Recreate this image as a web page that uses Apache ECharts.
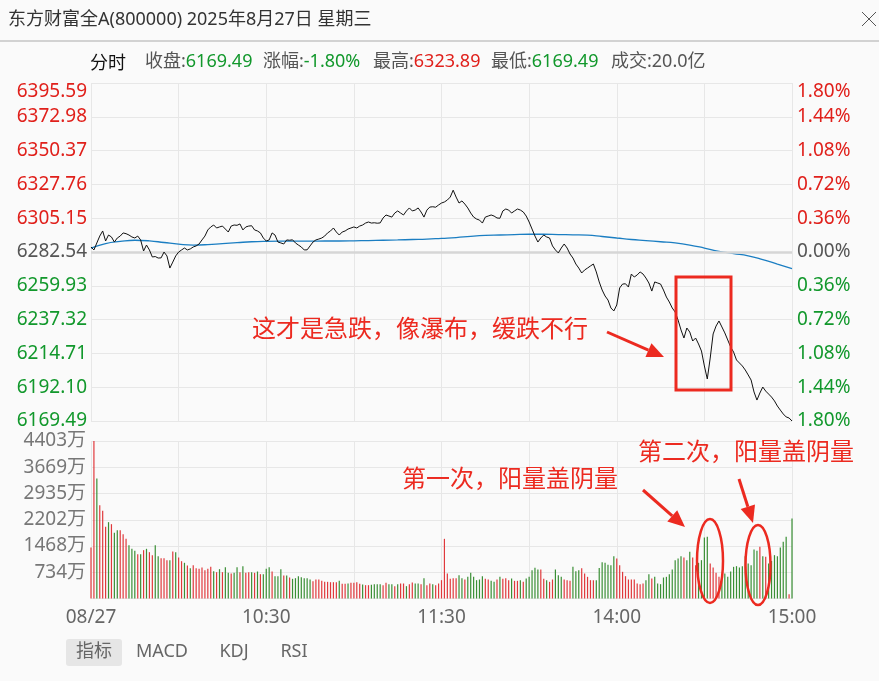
<!DOCTYPE html>
<html><head><meta charset="utf-8">
<script src="https://cdn.jsdelivr.net/npm/echarts@6/dist/echarts.min.js"></script>
<style>html,body{margin:0;padding:0;background:#fafafa;}#c{width:879px;height:681px;}</style>
</head><body><div id="c"></div>
<script>
// ---------- data ----------
const prevClose = 6282.54;
const priceMin = 6169.49;
const priceMax = 6395.59;
const volMax = 4403;
const priceTicks = ['6169.49','6192.10','6214.71','6237.32','6259.93','6282.54','6305.15','6327.76','6350.37','6372.98','6395.59'];
const pctTicks = ['1.80%','1.44%','1.08%','0.72%','0.36%','0.00%','0.36%','0.72%','1.08%','1.44%','1.80%'];
const volTicks = ['','734万','1468万','2202万','2935万','3669万','4403万'];
const timeTicks = ['08/27','','10:30','','11:30','','14:00','','15:00'];
const infoItems = [['收盘:','6169.49','g'],['涨幅:','-1.80%','g'],['最高:','6323.89','r'],['最低:','6169.49','g'],['成交:','20.0亿','k']];
const tabs = ['指标','MACD','KDJ','RSI'];

const price = [
 6285.9,6283.9,6288.6,6293.2,6296.6,6289.9,6293.9,6292.6,6289.2,6291.9,
 6293.2,6295.3,6294.8,6293.9,6292.6,6291.9,6293.2,6290.6,6283.2,6287.2,
 6283.9,6279.2,6279.5,6278.5,6278.6,6282.5,6279.9,6271.8,6275.8,6279.9,
 6282.5,6283.9,6285.2,6283.9,6284.6,6285.9,6286.6,6287.9,6290.6,6293.2,
 6297.3,6299.3,6300.6,6298.6,6299.3,6299.9,6297.9,6295.9,6299.9,6300.6,
 6300.4,6301.3,6297.3,6299.3,6299.9,6300.1,6297.3,6296.6,6295.3,6291.9,
 6289.9,6290.6,6295.3,6293.9,6289.2,6288.6,6287.9,6290.6,6290.4,6290.7,
 6288.6,6287.2,6285.9,6283.9,6284.0,6286.6,6289.2,6290.6,6291.2,6291.9,
 6293.2,6295.3,6296.6,6298.6,6295.9,6293.9,6295.9,6296.6,6297.9,6298.6,
 6299.3,6298.6,6299.9,6300.6,6301.9,6302.6,6301.9,6302.1,6301.8,6302.0,
 6305.3,6307.3,6306.6,6305.9,6308.6,6310.0,6308.6,6307.3,6310.0,6312.0,
 6310.0,6310.6,6312.0,6309.3,6305.9,6310.6,6312.6,6312.8,6312.5,6314.0,
 6315.3,6316.0,6317.3,6319.3,6323.89,6319.3,6315.3,6316.7,6314.6,6312.0,
 6308.6,6305.9,6304.6,6303.9,6301.9,6305.9,6306.6,6307.3,6306.6,6305.3,
 6305.1,6310.0,6311.3,6310.6,6308.6,6310.0,6311.3,6310.6,6309.3,6306.6,
 6302.6,6297.9,6293.2,6289.2,6291.9,6293.9,6292.6,6291.9,6286.6,6283.9,
 6281.9,6285.2,6287.9,6285.2,6281.2,6278.5,6274.5,6271.8,6268.5,6270.5,
 6271.8,6273.2,6274.5,6269.2,6262.5,6257.1,6253.1,6250.4,6245.1,6243.1,
 6247.1,6258.5,6261.1,6261.3,6259.1,6267.8,6265.8,6267.2,6269.2,6267.8,
 6265.1,6261.8,6256.4,6262.5,6261.8,6261.1,6257.1,6252.4,6249.1,6245.1,
 6242.4,6237.0,6230.4,6225.0,6231.7,6229.0,6223.0,6225.0,6221.0,6216.3,
 6206.3,6197.6,6211.6,6227.7,6233.0,6236.4,6232.4,6228.4,6223.7,6219.0,
 6215.6,6210.3,6208.3,6206.3,6203.6,6200.3,6196.9,6188.9,6183.5,6188.2,
 6192.2,6189.5,6187.5,6185.5,6182.9,6179.5,6176.8,6174.2,6172.2,6171.5,
 6169.49
];

const avgIdx = [0,5,10,15,20,25,30,35,40,45,50,55,60,65,70,75,80,85,90,95,100,105,110,115,120,125,130,135,140,145,150,155,160,165,170,175,180,185,190,195,200,205,210,215,220,225,230,235,240];
const avgVal = [6285.2,6288.2,6289.6,6290.4,6290.0,6288.9,6287.8,6287.2,6287.5,6288.2,6288.8,6289.4,6289.7,6289.8,6289.8,6289.8,6289.9,6289.9,6290.0,6290.2,6290.4,6290.6,6290.9,6291.2,6291.7,6292.2,6293.0,6293.6,6293.9,6294.2,6294.4,6294.4,6294.2,6294.0,6293.8,6292.9,6291.9,6290.9,6290.2,6289.4,6288.6,6287.2,6285.2,6283.0,6281.5,6280.0,6277.5,6274.5,6271.5];

const volume = [
 1426,4403,3355,2610,2452,2004,2134,2078,1837,1910,
 1910,1798,1669,1491,1389,1333,1239,1239,1351,1389,
 1295,1211,1491,1183,1127,1127,1071,1071,1314,1295,
 1146,1043,998,923,848,932,848,830,867,792,
 830,886,764,736,820,736,876,718,699,718,
 876,736,904,718,736,736,718,755,680,680,
 830,876,755,624,624,820,643,643,587,550,
 568,624,596,568,568,531,484,531,531,494,
 466,466,456,456,456,494,410,410,419,438,
 438,456,410,391,373,373,382,401,401,400,
 373,438,401,401,345,401,419,419,345,401,
 447,419,419,401,568,373,419,401,373,419,
 513,1668,699,550,568,568,652,568,531,606,
 718,606,513,531,624,550,531,494,466,531,
 606,550,568,513,559,494,494,513,466,559,
 606,792,857,811,811,550,513,466,531,811,
 652,606,531,513,494,885,764,792,848,699,
 606,513,513,513,850,1016,997,941,932,1184,
 1118,932,746,624,531,531,531,419,401,419,
 513,680,559,606,419,401,587,606,680,811,
 1072,1118,1184,1146,1072,1305,1146,932,997,1072,
 1706,1724,979,867,718,606,680,699,606,755,
 885,904,867,900,1184,979,932,1370,1333,1445,
 1184,1165,979,1050,1212,1184,1426,1584,1724,121,
 2237
];
const volUp = [
 1,1,0,1,1,1,0,1,0,0, 1,1,1,0,0,0,1,0,1,0, 1,1,0,0,1,1,1,0,1,0, 1,1,0,1,0,1,1,1,1,1,
 1,1,0,1,0,1,0,0,1,0, 0,1,0,1,1,0,1,0,1,0, 0,0,1,0,0,0,1,0,1,0, 0,0,0,0,0,0,1,1,1,1,
 1,1,1,1,1,0,1,1,0,1, 1,1,1,0,1,1,0,0,0,0, 1,1,0,0,1,0,1,1,0,1, 1,0,0,1,0,1,1,0,1,1,
 1,1,1,1,1,1,0,0,1,0, 0,0,0,0,0,1,1,0,0,1, 0,1,1,1,0,1,1,0,1,0, 0,0,0,0,1,1,0,1,1,0,
 0,0,1,1,1,0,0,0,1,1, 1,1,1,0,0,0,0,0,0,0, 1,1,1,1,1,1,1,1,1,1, 0,0,1,0,0,0,0,0,0,0,
 0,0,0,1,0,0,1,1,0,0, 0,0,1,1,1,1,0,0,0,0, 0,0,0,0,0,0,0,0,0,1, 0,1,0,0,0,0,0,0,0,1,
 0
];

// ---------- style ----------
const RED = '#e0201b', GREEN = '#12982c', GRAY = '#555555';
const BAR_RED = '#e0393c', BAR_GREEN = '#3a8f35';
const ANN = '#ec2a20';
const GRID = '#e7e7e7';
const F = '"Noto Sans","Noto Sans CJK SC",sans-serif';
const FC = '"Noto Sans CJK SC","Noto Sans",sans-serif';
const AX = 19;

const chart = echarts.init(document.getElementById('c'), null, {renderer:'canvas'});

function cls(i){ return i>5 ? 'r' : (i<5 ? 'g' : 'n'); }
const labelRich = {
  r:{color:RED, fontSize:AX, fontFamily:F},
  g:{color:GREEN, fontSize:AX, fontFamily:F},
  n:{color:GRAY, fontSize:AX, fontFamily:F},
  rt:{color:RED, fontSize:AX, fontFamily:F, padding:[17,0,0,0]}
};

function arrow(x1,y1,x2,y2){
  const a = Math.atan2(y2-y1,x2-x1), L=17, W=7.5;
  const bx = x2 - L*Math.cos(a), by = y2 - L*Math.sin(a);
  return [
    {type:'line', shape:{x1:x1,y1:y1,x2:bx,y2:by}, style:{stroke:ANN, lineWidth:3}, z:100},
    {type:'polygon', shape:{points:[[x2,y2],[bx+W*Math.sin(a),by-W*Math.cos(a)],[bx-W*Math.sin(a),by+W*Math.cos(a)]]}, style:{fill:ANN}, z:100}
  ];
}

const graphics = [
  {type:'text', style:{x:8, y:20, text:'东方财富全A(800000) 2025年8月27日 星期三', fontSize:18, fontFamily:F, fill:'#333', verticalAlign:'middle'}},
  {type:'line', shape:{x1:862,y1:12,x2:876,y2:26}, style:{stroke:'#555', lineWidth:1}},
  {type:'line', shape:{x1:876,y1:12,x2:862,y2:26}, style:{stroke:'#555', lineWidth:1}},
  {type:'line', shape:{x1:0,y1:41,x2:879,y2:41}, style:{stroke:'#c4c4c4', lineWidth:1.5}},
  {type:'text', style:{x:90, y:62, text:'分时', fontSize:18, fontFamily:FC, fill:'#111', verticalAlign:'middle'}},
  {type:'rect', shape:{x:66,y:639,width:56,height:27,r:3}, style:{fill:'#e6e6e6'}},
  ...arrow(607,332,664,357),
  ...arrow(643,490,685,527),
  ...arrow(739,479,753,523),
  {type:'rect', shape:{x:676,y:277,width:55,height:113}, style:{stroke:ANN, fill:'none', lineWidth:3}, z:100},
  {type:'ellipse', shape:{cx:710,cy:561,rx:13,ry:42}, style:{stroke:ANN, fill:'none', lineWidth:2.5}, z:100},
  {type:'ellipse', shape:{cx:758,cy:565,rx:12.5,ry:40}, style:{stroke:ANN, fill:'none', lineWidth:2.5}, z:100},
  {type:'text', style:{x:252, y:328, text:'这才是急跌，像瀑布，缓跌不行', fontSize:24, fontFamily:FC, fill:ANN, verticalAlign:'middle'}, z:100},
  {type:'text', style:{x:402, y:478, text:'第一次，阳量盖阴量', fontSize:24, fontFamily:FC, fill:ANN, verticalAlign:'middle'}, z:100},
  {type:'text', style:{x:638, y:451, text:'第二次，阳量盖阴量', fontSize:24, fontFamily:FC, fill:ANN, verticalAlign:'middle'}, z:100}
];
const infoX = [145,263,373,491,611];
infoItems.forEach((it,k)=>{
  graphics.push({type:'text', style:{x:infoX[k], y:62, text:'{k|'+it[0]+'}{'+it[2]+'|'+it[1]+'}', fontSize:18, fontFamily:F, verticalAlign:'middle',
    rich:{k:{fill:'#555', fontSize:18, fontFamily:F}, g:{fill:GREEN, fontSize:18, fontFamily:F}, r:{fill:RED, fontSize:18, fontFamily:F}}}});
});
const tabX = [94,162,234,294];
tabs.forEach((t,k)=>{
  graphics.push({type:'text', style:{x:tabX[k], y:652, text:t, fontSize:18, fontFamily:F, fill:'#666', align:'center', verticalAlign:'middle'}});
});

const option = {
  animation:false,
  backgroundColor:'#fafafa',
  grid:[
    {left:91, top:83, width:701, height:338},
    {left:91, top:441, width:701, height:157.5}
  ],
  xAxis:[
    {gridIndex:0, type:'value', min:0, max:240, interval:30,
     axisLine:{show:false}, axisTick:{show:false}, axisLabel:{show:false},
     splitLine:{show:true, lineStyle:{color:GRID, width:1}}},
    {gridIndex:1, type:'value', min:0, max:240, interval:30,
     axisLine:{show:false}, axisTick:{show:false},
     axisLabel:{show:true, margin:10, color:'#666', fontSize:AX, fontFamily:F, showMinLabel:true, showMaxLabel:true,
       formatter:(v)=>timeTicks[Math.round(v/30)]},
     splitLine:{show:true, lineStyle:{color:GRID, width:1}}}
  ],
  yAxis:[
    {gridIndex:0, type:'value', position:'left', min:0, max:10, interval:1,
     axisLine:{show:false}, axisTick:{show:false},
     axisLabel:{margin:4, formatter:(v)=>'{'+(v===10?'rt':cls(v))+'|'+priceTicks[v]+'}', rich:labelRich},
     splitLine:{show:true, lineStyle:{color:GRID, width:1}}},
    {gridIndex:0, type:'value', position:'right', min:0, max:10, interval:1,
     axisLine:{show:false}, axisTick:{show:false},
     axisLabel:{margin:5, formatter:(v)=>'{'+(v===10?'rt':cls(v))+'|'+pctTicks[v]+'}', rich:labelRich},
     splitLine:{show:false}},
    {gridIndex:0, type:'value', min:priceMin, max:priceMax, show:false, splitLine:{show:false}},
    {gridIndex:1, type:'value', position:'left', min:0, max:6, interval:1,
     axisLine:{show:false}, axisTick:{show:false},
     axisLabel:{margin:5, color:'#777', fontSize:AX, fontFamily:F, formatter:(v)=>volTicks[v]},
     splitLine:{show:true, lineStyle:{color:GRID, width:1}}},
    {gridIndex:1, type:'value', min:0, max:volMax, show:false, splitLine:{show:false}}
  ],
  series:[
    {type:'line', xAxisIndex:0, yAxisIndex:2, data:[], z:1, silent:true,
     markLine:{silent:true, symbol:['none','none'], label:{show:false},
       lineStyle:{color:'#d6d6d6', width:2.5, type:'solid'}, data:[{yAxis:prevClose}]}},
    {type:'line', xAxisIndex:0, yAxisIndex:2, z:4, showSymbol:false, smooth:true,
     data: avgIdx.map((x,k)=>[x, avgVal[k]]),
     lineStyle:{color:'#1b7ec2', width:1.3}, itemStyle:{color:'#1b7ec2'}},
    {type:'line', xAxisIndex:0, yAxisIndex:2, z:5, showSymbol:false,
     data: price.map((p,i)=>[i,p]),
     lineStyle:{color:'#111', width:1}, itemStyle:{color:'#111'}},
    {type:'bar', xAxisIndex:1, yAxisIndex:4, barWidth:1.2,
     data: volume.map((v,i)=>({value:[i,v], itemStyle:{color: volUp[i] ? BAR_RED : BAR_GREEN}}))}
  ],
  graphic: graphics
};
chart.setOption(option);
</script>
</body></html>
